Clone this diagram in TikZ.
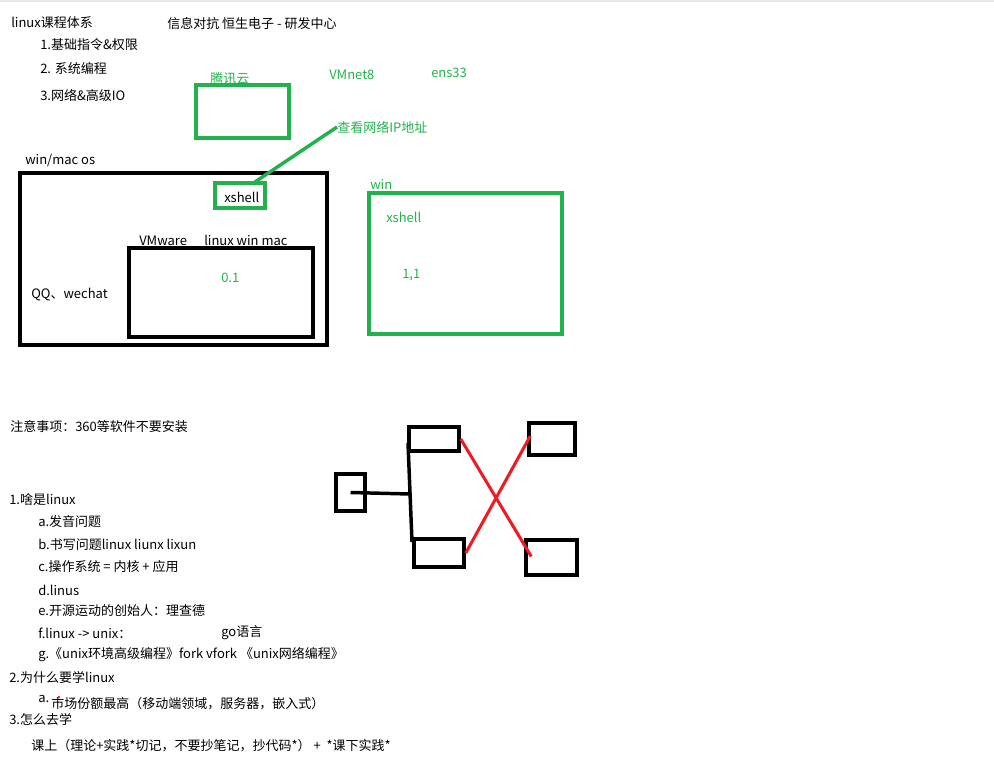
\documentclass[tikz,border=0pt]{standalone}
\usepackage{fontspec}
\setmainfont{Noto Sans CJK SC}
\usetikzlibrary{positioning,fit,calc}
\definecolor{pgreen}{RGB}{34,177,76}
\definecolor{pred}{RGB}{237,28,36}
\definecolor{topbar}{RGB}{232,232,232}

\begin{document}
\begin{tikzpicture}[x=0.75pt, y=-0.75pt,
  every node/.style={inner sep=0pt, font=\fontsize{9.75}{12}\selectfont},
  txt/.style={anchor=west},
  gtxt/.style={anchor=west, text=pgreen},
  bbox/.style={draw=black, line width=2.6pt},
  gbox/.style={draw=pgreen, line width=2.6pt},
  gline/.style={draw=pgreen, line width=2.6pt},
  bline/.style={draw=black, line width=2.6pt},
  rline/.style={draw=pred, line width=2.3pt}]
  \useasboundingbox (0,0) rectangle (994,781);
  \fill[topbar] (0,0) rectangle (994,2.5);

  \node[txt] (title) at (11,23) {linux课程体系};
  \node[txt] (org) at (167,24) {信息对抗 恒生电子 - 研发中心};
  \node[txt] (c1) at (40,45) {1.基础指令\&权限};
  \node[txt] (c2) at (40,69) {2. 系统编程};
  \node[txt] (c3) at (40,95) {3.网络\&高级IO};

  \node[gtxt] (cloudlbl) at (210,79) {腾讯云};
  \node[gtxt] (vmnet) at (329,75) {VMnet8};
  \node[gtxt] (ens) at (431,73) {ens33};
  \node[gbox, fit={(196,85) (289,138)}] (cloud) {};
  \node[gtxt] (ipnote) at (337,127) {查看网络IP地址};

  \node[txt] (hostlbl) at (25,161) {win/mac os};
  \node[bbox, fit={(20,173) (327,345)}] (host) {};
  \node[gbox, fit={(215,183) (265,208)}] (xsh) {};
  \node[txt] (xshlbl) at (224,197) {xshell};
  \coordinate (ipend) at (255,182);
  \draw[gline] (ipnote.west) -- (ipend);
  \node[txt] (vmw) at (139,241) {VMware};
  \node[txt] (guests) at (204,240) {linux win mac};
  \node[bbox, fit={(129,248) (313,337)}] (vm) {};
  \node[gtxt] (ipa) at (221,278) {0.1};
  \node[txt] (apps) at (31,295) {QQ、wechat};

  \node[gtxt] (winlbl) at (370,184) {win};
  \node[gbox, fit={(369,193) (562,334)}] (win) {};
  \node[gtxt] (xsh2) at (386,217) {xshell};
  \node[gtxt] (ipb) at (402,275) {1,1};

  \node[txt] (note) at (10,427) {注意事项：360等软件不要安装};
  \node[txt] (q1) at (9,500) {1.啥是linux};
  \node[txt] (q1a) at (38,522) {a.发音问题};
  \node[txt] (q1b) at (38,545) {b.书写问题linux liunx lixun};
  \node[txt] (q1c) at (38,567) {c.操作系统 = 内核 + 应用};
  \node[txt] (q1d) at (38,590) {d.linus};
  \node[txt] (q1e) at (38,611) {e.开源运动的创始人：理查德};
  \node[txt] (q1f) at (38,633) {f.linux -> unix：};
  \node[txt] (golang) at (221,633) {go语言};
  \node[txt] (q1g) at (38,655) {g.《unix环境高级编程》fork vfork 《unix网络编程》};
  \node[txt] (q2) at (9,677) {2.为什么要学linux};
  \node[txt] (q2a) at (38,699) {a.};
  \node[txt] (q2atext) at (51,704) {市场份额最高（移动端领域，服务器，嵌入式）};
  \fill[pred] (59,697) circle (1.3);
  \node[txt] (q3) at (9,719) {3.怎么去学};
  \node[txt] (q3a) at (31,746) {课上（理论+实践*切记，不要抄笔记，抄代码*）~+~~*课下实践*};

  \node[bbox, fit={(336,474) (365,511)}] (root) {};
  \node[bbox, fit={(409,427) (459,451)}] (la) {};
  \node[bbox, fit={(414,539) (464,567)}] (lb) {};
  \node[bbox, fit={(529,423) (575,455)}] (ra) {};
  \node[bbox, fit={(526,540) (577,575)}] (rb) {};
  \coordinate (jn) at (410,494);
  \coordinate (trunktop) at (408,443);
  \coordinate (trunkbot) at (412,542);
  \draw[bline] (root.center) -- (jn);
  \draw[bline] (trunktop) -- (trunkbot);
  \draw[rline] (la.east) -- ($(rb.west)+(7,-1)$);
  \draw[rline] (lb.east) -- ($(ra.west)+(3,-3)$);
\end{tikzpicture}
\end{document}
